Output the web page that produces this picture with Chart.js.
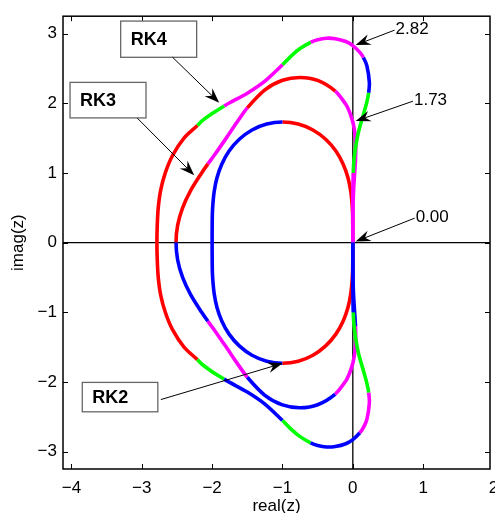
<!DOCTYPE html>
<html>
<head>
<meta charset="utf-8">
<script src="https://cdn.jsdelivr.net/npm/chart.js@4.4.1/dist/chart.umd.min.js"></script>
<style>
  html, body { margin: 0; padding: 0; background: #ffffff; }
  #wrap { width: 495px; height: 513px; }
</style>
</head>
<body>
<div id="wrap"><canvas id="c" width="495" height="513"></canvas></div>
<script>
// Boundaries |R(z)| = 1 of the stability regions of explicit Runge–Kutta methods
// Each closed curve starts at the origin, runs through the upper half plane and returns.

// RK2
const rk2Re = [0, 0.000, -0.001, -0.003, -0.012, -0.031, -0.069, -0.137, -0.241, -0.386, -0.567, -0.776, -1.000,
  -1.224, -1.433, -1.614, -1.759, -1.863, -1.931, -1.969, -1.988, -1.997, -1.999, -2.000, -2.000,
  -2.000, -1.999, -1.997, -1.988, -1.969, -1.931, -1.863, -1.759, -1.614, -1.433, -1.224, -1.000,
  -0.776, -0.567, -0.386, -0.241, -0.137, -0.069, -0.031, -0.012, -0.003, -0.001, 0.000, 0];
const rk2Im = [0, 0.132, 0.268, 0.413, 0.571, 0.744, 0.931, 1.125, 1.314, 1.483, 1.617, 1.703, 1.732,
  1.703, 1.617, 1.483, 1.314, 1.125, 0.931, 0.744, 0.571, 0.413, 0.268, 0.132, 0,
  -0.132, -0.268, -0.413, -0.571, -0.744, -0.931, -1.125, -1.314, -1.483, -1.617, -1.703, -1.732,
  -1.703, -1.617, -1.483, -1.314, -1.125, -0.931, -0.744, -0.571, -0.413, -0.268, -0.132, 0];

// RK3
const rk3Re = [0, 0.001, 0.005, 0.013, 0.026, 0.038, 0.042, 0.037, 0.025, 0, -0.05, -0.1, -0.25, -0.5, -0.75,
  -1.0, -1.25, -1.5, -1.65, -1.8, -1.972, -2.06, -2.149, -2.304, -2.42, -2.49, -2.513,
  -2.49, -2.42, -2.304, -2.149, -2.06, -1.972, -1.8, -1.65, -1.5, -1.25, -1.0, -0.75, -0.5, -0.25,
  -0.1, -0.05, 0, 0.025, 0.037, 0.042, 0.038, 0.026, 0.013, 0.005, 0.001, 0];
const rk3Im = [0, 0.3, 0.6, 0.8, 1.0, 1.2, 1.4, 1.5, 1.6, 1.732, 1.883, 1.986, 2.175, 2.328, 2.371,
  2.33, 2.192, 1.933, 1.723, 1.5, 1.25, 1.13, 1.0, 0.75, 0.5, 0.25, 0,
  -0.25, -0.5, -0.75, -1.0, -1.13, -1.25, -1.5, -1.723, -1.933, -2.192, -2.33, -2.371, -2.328, -2.175,
  -1.986, -1.883, -1.732, -1.6, -1.5, -1.4, -1.2, -1.0, -0.8, -0.6, -0.3, 0];

// RK4
const rk4Re = [0, 0, 0.002, 0.006, 0.018, 0.045, 0.072, 0.1, 0.15, 0.2, 0.225, 0.235, 0.2, 0.15, 0.1, 0,
  -0.1, -0.25, -0.375, -0.5, -0.6, -0.75, -0.875, -1.0, -1.25, -1.5, -1.75, -1.83, -2.0, -2.14, -2.21,
  -2.4, -2.563, -2.666, -2.732, -2.766, -2.78, -2.785,
  -2.78, -2.766, -2.732, -2.666, -2.563, -2.4, -2.21, -2.14, -2.0, -1.83, -1.75, -1.5, -1.25, -1.0,
  -0.875, -0.75, -0.6, -0.5, -0.375, -0.25, -0.1, 0, 0.1, 0.15, 0.2, 0.235, 0.225, 0.2, 0.15, 0.1,
  0.072, 0.045, 0.018, 0.006, 0.002, 0, 0];
const rk4Im = [0, 0.5, 0.8, 1.0, 1.2, 1.4, 1.55, 1.663, 1.836, 2.02, 2.151, 2.3, 2.537, 2.657, 2.73, 2.828,
  2.887, 2.927, 2.934, 2.912, 2.874, 2.785, 2.681, 2.553, 2.318, 2.145, 2.007, 1.96, 1.853, 1.75, 1.68,
  1.5, 1.25, 1.0, 0.75, 0.5, 0.25, 0,
  -0.25, -0.5, -0.75, -1.0, -1.25, -1.5, -1.68, -1.75, -1.853, -1.96, -2.007, -2.145, -2.318, -2.553,
  -2.681, -2.785, -2.874, -2.912, -2.934, -2.927, -2.887, -2.828, -2.73, -2.657, -2.537, -2.3, -2.151, -2.02, -1.836, -1.663,
  -1.55, -1.4, -1.2, -1.0, -0.8, -0.5, 0];

// Tick values on both axes
const realTicks = [-4, -3, -2, -1, 0, 1, 2];
const imagTicks = [-3, -2, -1, 0, 1, 2, 3];

// Imaginary-axis crossings that are called out with arrows
const crossingValues = ['2.82', '1.73', '0.00'];

// --- styling -------------------------------------------------------------
const palette = { b: '#0000ff', r: '#ff0000', m: '#ff00ff', g: '#00ff00' };
// colour runs along each curve: [first segment index, colour key]
const rk2Runs = [[0, 'r'], [12, 'b'], [36, 'r']];
const rk3Runs = [[0, 'm'], [12, 'r'], [17, 'm'], [21, 'r'], [26, 'b'], [31, 'm'], [35, 'b'], [40, 'm'], [47, 'b']];
const rk4Runs = [[0, 'm'], [3, 'g'], [10, 'b'], [13, 'm'], [20, 'g'], [23, 'm'], [27, 'g'], [30, 'r'],
  [44, 'g'], [47, 'b'], [51, 'g'], [54, 'b'], [60, 'm'], [64, 'g'], [71, 'b']];

// callout geometry (data coordinates)
const methodBoxes = [
  { text: 'RK4', x0: -3.30, y0: 3.18, x1: -2.22, y1: 2.66, from: [-2.564, 2.662], to: [-1.899, 2.009] },
  { text: 'RK3', x0: -4.02, y0: 2.30, x1: -2.94, y1: 1.79, from: [-3.063, 1.786], to: [-2.255, 0.966] },
  { text: 'RK2', x0: -3.846, y0: -2.007, x1: -2.772, y1: -2.429, from: [-2.729, -2.253], to: [-0.997, -1.733] }
];
const crossingTails = [[0.594, 3.05], [0.855, 2.03], [0.879, 0.351]];

const FONT = "'Liberation Sans', Arial, Helvetica, sans-serif";

function runColor(runs, i) {
  let key = runs[0][1];
  for (const [start, k] of runs) { if (i >= start) key = k; }
  return palette[key];
}

function curve(re, im, runs) {
  return {
    data: re.map((x, i) => ({ x: x, y: im[i] })),
    showLine: true,
    borderColor: palette[runs[0][1]],
    borderWidth: 3.6,
    pointRadius: 0,
    tension: 0.3,
    fill: false,
    segment: { borderColor: ctx => runColor(runs, ctx.p0DataIndex) }
  };
}

function fmt(v) { return String(v).replace('-', '\u2212'); }

function drawArrow(ctx, x0, y0, x1, y1) {
  const a = Math.atan2(y1 - y0, x1 - x0), c = Math.cos(a), s = Math.sin(a);
  const L = 15, W = 5.5, N = 5;
  ctx.beginPath();
  ctx.moveTo(x0, y0);
  ctx.lineTo(x1 - (L - N) * c, y1 - (L - N) * s);
  ctx.stroke();
  const bx = x1 - L * c, by = y1 - L * s;
  ctx.beginPath();
  ctx.moveTo(x1, y1);
  ctx.lineTo(bx - W * s, by + W * c);
  ctx.lineTo(x1 - (L - N) * c, y1 - (L - N) * s);
  ctx.lineTo(bx + W * s, by - W * c);
  ctx.closePath();
  ctx.fill();
}

// zero lines behind the curves
const zeroLines = {
  id: 'zeroLines',
  beforeDatasetsDraw(chart) {
    const { ctx, chartArea: a, scales: { x, y } } = chart;
    ctx.save();
    ctx.strokeStyle = '#000';
    ctx.lineWidth = 1.3;
    const px = x.getPixelForValue(0), py = y.getPixelForValue(0);
    ctx.beginPath();
    ctx.moveTo(a.left, py); ctx.lineTo(a.right, py);
    ctx.moveTo(px, a.top); ctx.lineTo(px, a.bottom);
    ctx.stroke();
    ctx.restore();
  }
};

// frame with inward ticks, then the callouts
const frameAndNotes = {
  id: 'frameAndNotes',
  afterDatasetsDraw(chart) {
    const { ctx, chartArea: a, scales: { x, y } } = chart;
    ctx.save();
    ctx.strokeStyle = '#000';
    ctx.lineWidth = 1.5;
    ctx.strokeRect(a.left, a.top, a.right - a.left, a.bottom - a.top);
    ctx.lineWidth = 1;
    const T = 5;
    ctx.beginPath();
    x.ticks.forEach(t => {
      if (t.value < x.min || t.value > x.max) return;
      const p = Math.round(x.getPixelForValue(t.value)) + 0.5;
      ctx.moveTo(p, a.bottom); ctx.lineTo(p, a.bottom - T);
      ctx.moveTo(p, a.top); ctx.lineTo(p, a.top + T);
    });
    y.ticks.forEach(t => {
      if (t.value < y.min || t.value > y.max) return;
      const p = Math.round(y.getPixelForValue(t.value)) + 0.5;
      ctx.moveTo(a.left, p); ctx.lineTo(a.left + T, p);
      ctx.moveTo(a.right, p); ctx.lineTo(a.right - T, p);
    });
    ctx.stroke();

    // method labels with arrows
    methodBoxes.forEach(b => {
      const l = x.getPixelForValue(b.x0), t = y.getPixelForValue(b.y0);
      const r = x.getPixelForValue(b.x1), btm = y.getPixelForValue(b.y1);
      ctx.fillStyle = '#fff';
      ctx.fillRect(l, t, r - l, btm - t);
      ctx.strokeStyle = '#666';
      ctx.lineWidth = 1.3;
      ctx.strokeRect(l, t, r - l, btm - t);
      ctx.fillStyle = '#000';
      ctx.font = 'bold 18px ' + FONT;
      ctx.textAlign = 'left';
      ctx.textBaseline = 'middle';
      ctx.fillText(b.text, l + 10, (t + btm) / 2 + 1);
      ctx.strokeStyle = '#000';
      ctx.lineWidth = 1;
      drawArrow(ctx, x.getPixelForValue(b.from[0]), y.getPixelForValue(b.from[1]),
        x.getPixelForValue(b.to[0]), y.getPixelForValue(b.to[1]));
    });

    // imaginary-axis crossing values
    ctx.fillStyle = '#000';
    ctx.strokeStyle = '#000';
    ctx.lineWidth = 1;
    ctx.font = '17px ' + FONT;
    ctx.textAlign = 'left';
    ctx.textBaseline = 'middle';
    crossingValues.forEach((label, i) => {
      const tx = x.getPixelForValue(crossingTails[i][0]), ty = y.getPixelForValue(crossingTails[i][1]);
      let hx = x.getPixelForValue(0), hy = y.getPixelForValue(parseFloat(label));
      const d = Math.hypot(tx - hx, ty - hy);
      hx += (tx - hx) / d * 3; hy += (ty - hy) / d * 3;
      drawArrow(ctx, tx, ty, hx, hy);
      ctx.fillText(label, tx + 1, ty - 1);
    });
    ctx.restore();
  }
};

new Chart(document.getElementById('c'), {
  type: 'scatter',
  data: {
    datasets: [
      curve(rk4Re, rk4Im, rk4Runs),
      curve(rk3Re, rk3Im, rk3Runs),
      curve(rk2Re, rk2Im, rk2Runs)
    ]
  },
  options: {
    responsive: false,
    devicePixelRatio: 1,
    animation: false,
    events: [],
    layout: { padding: { top: 11, right: 5, left: 0, bottom: 0 } },
    plugins: { legend: { display: false }, tooltip: { enabled: false } },
    scales: {
      x: {
        type: 'linear',
        min: -4.12,
        max: 1.95,
        afterFit(s) { s.height = 44; s.paddingLeft = 0; s.paddingRight = 0; },
        afterBuildTicks(s) { s.ticks = realTicks.map(v => ({ value: v })); },
        grid: { display: false, drawTicks: false },
        border: { display: false },
        ticks: { color: '#000', font: { family: FONT, size: 17 }, padding: 9, maxRotation: 0, autoSkip: false, callback: fmt },
        title: { display: true, text: 'real(z)', color: '#000', font: { family: FONT, size: 17 }, padding: { top: 0, bottom: -4 } }
      },
      y: {
        type: 'linear',
        min: -3.25,
        max: 3.25,
        afterFit(s) { s.width = 63; },
        afterBuildTicks(s) { s.ticks = imagTicks.filter(v => v >= s.min && v <= s.max).map(v => ({ value: v })); },
        grid: { display: false, drawTicks: false },
        border: { display: false },
        ticks: { color: '#000', font: { family: FONT, size: 17 }, padding: 6, callback: fmt },
        title: { display: true, text: 'imag(z)', color: '#000', font: { family: FONT, size: 17 }, padding: { top: 8, bottom: 0 } }
      }
    }
  },
  plugins: [zeroLines, frameAndNotes]
});
</script>
</body>
</html>
